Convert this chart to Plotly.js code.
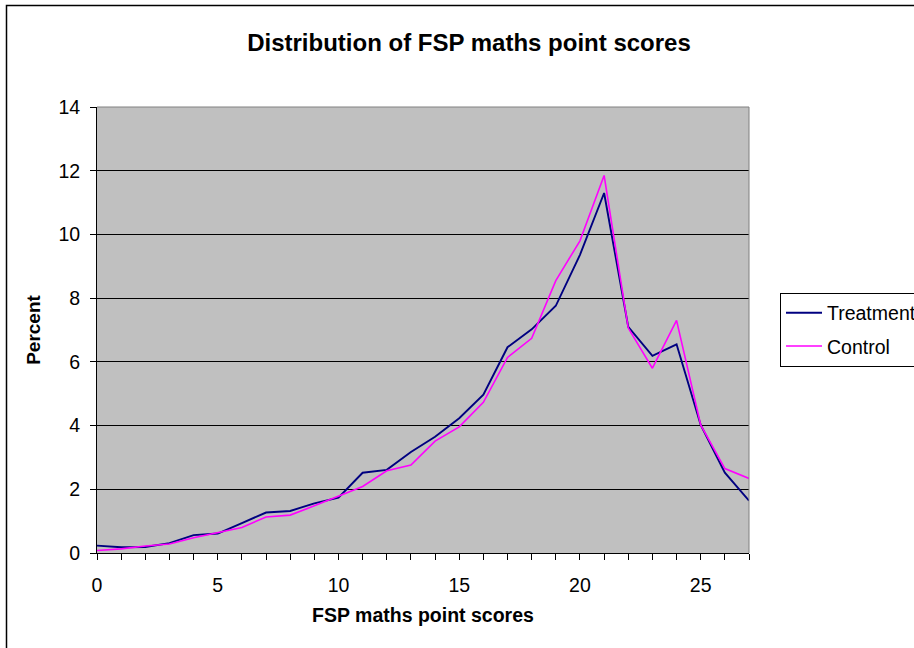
<!DOCTYPE html>
<html>
<head>
<meta charset="utf-8">
<script src="https://cdn.plot.ly/plotly-3.0.1.min.js"></script>
<style>
  html, body { margin: 0; padding: 0; background: #ffffff; }
  #chart { width: 914px; height: 648px; }
</style>
</head>
<body>
<div id="chart"></div>
<script>
// ---- data ----
const scores = [0,1,2,3,4,5,6,7,8,9,10,11,12,13,14,15,16,17,18,19,20,21,22,23,24,25,26,27];
const treatment = [0.23,0.18,0.19,0.31,0.56,0.61,0.94,1.27,1.32,1.56,1.74,2.52,2.61,3.17,3.65,4.23,4.97,6.46,7.02,7.76,9.36,11.30,7.10,6.19,6.55,4.02,2.52,1.64];
const control   = [0.08,0.13,0.22,0.28,0.48,0.63,0.80,1.13,1.19,1.48,1.78,2.09,2.58,2.76,3.51,3.96,4.73,6.14,6.74,8.55,9.80,11.85,7.06,5.80,7.30,4.02,2.65,2.34];
const seriesNames = ['Treatment', 'Control'];
const chartTitle = 'Distribution of FSP maths point scores';
const xTitle = 'FSP maths point scores';
const yTitle = 'Percent';

// ---- layout geometry (pixels) ----
const W = 914, H = 648;
const ml = 97, mr = 165, mt = 107, mb = 95;
const pw = W - ml - mr, ph = H - mt - mb;
const px2x = p => (p - ml) / pw;
const px2y = p => (H - mb - p) / ph;

const FONT = 'Arial, "Liberation Sans", sans-serif';

const traces = [
  { x: scores, y: treatment, name: seriesNames[0], type: 'scatter', mode: 'lines',
    line: { color: '#000080', width: 1.9 }, legendgroup: 'a' },
  { x: scores, y: control, name: seriesNames[1], type: 'scatter', mode: 'lines',
    line: { color: '#FF00FF', width: 1.6 }, legendgroup: 'b' }
];

const layout = {
  width: W, height: H,
  margin: { l: ml, r: mr, t: mt, b: mb, pad: 0, autoexpand: false },
  paper_bgcolor: '#ffffff',
  plot_bgcolor: '#C0C0C0',
  font: { family: FONT, color: '#000000', size: 19.5 },
  title: {
    text: chartTitle,
    font: { family: FONT, size: 24, weight: 'bold', color: '#000' },
    xref: 'paper', x: px2x(469), xanchor: 'center',
    yref: 'container', y: 1 - 43 / H, yanchor: 'middle'
  },
  xaxis: {
    range: [0, 27], dtick: 5, tick0: 0,
    ticks: 'outside', ticklen: 6, tickwidth: 1, tickcolor: '#000',
    minor: { dtick: 1, tick0: 0, ticks: 'outside', ticklen: 6, tickwidth: 1, tickcolor: '#000', showgrid: false },
    showgrid: false, zeroline: false,
    showline: true, linecolor: '#000', linewidth: 1,
    tickfont: { family: FONT, size: 19.5 },
    ticklabelstandoff: 9,
    automargin: false,
    title: { text: xTitle, font: { family: FONT, size: 19.5, weight: 'bold' }, standoff: 12 }
  },
  yaxis: {
    range: [0, 14], dtick: 2, tick0: 0,
    ticks: 'outside', ticklen: 6, tickwidth: 1, tickcolor: '#000',
    showgrid: true, gridcolor: '#000000', gridwidth: 1,
    zeroline: false,
    showline: true, linecolor: '#000', linewidth: 1,
    tickfont: { family: FONT, size: 19.5 },
    ticklabelstandoff: 6,
    automargin: false,
    title: { text: yTitle, font: { family: FONT, size: 19, weight: 'bold' }, standoff: 12 }
  },
  showlegend: true,
  legend: {
    x: px2x(780), xanchor: 'left', xref: 'paper',
    y: px2y(292.5), yanchor: 'top', yref: 'paper',
    bgcolor: '#ffffff', bordercolor: '#000000', borderwidth: 1,
    font: { family: FONT, size: 19.5, color: '#000' },
    tracegroupgap: 5,
    itemwidth: 36
  },
  shapes: [
    // gray border on top and right of plot area
    { type: 'line', xref: 'paper', yref: 'paper', x0: 0, x1: 1, y0: 1, y1: 1,
      line: { color: '#808080', width: 1 }, layer: 'above' },
    { type: 'line', xref: 'paper', yref: 'paper', x0: 1, x1: 1, y0: 0, y1: 1,
      line: { color: '#808080', width: 1 }, layer: 'above' },
    // outer chart frame (left and top visible)
    { type: 'rect', xref: 'paper', yref: 'paper',
      x0: px2x(6.5), x1: px2x(930), y0: px2y(5.5), y1: px2y(670),
      line: { color: '#000000', width: 1.5 }, fillcolor: 'rgba(0,0,0,0)', layer: 'above' }
  ]
};

Plotly.newPlot('chart', traces, layout, { displayModeBar: false, staticPlot: true });
</script>
</body>
</html>
